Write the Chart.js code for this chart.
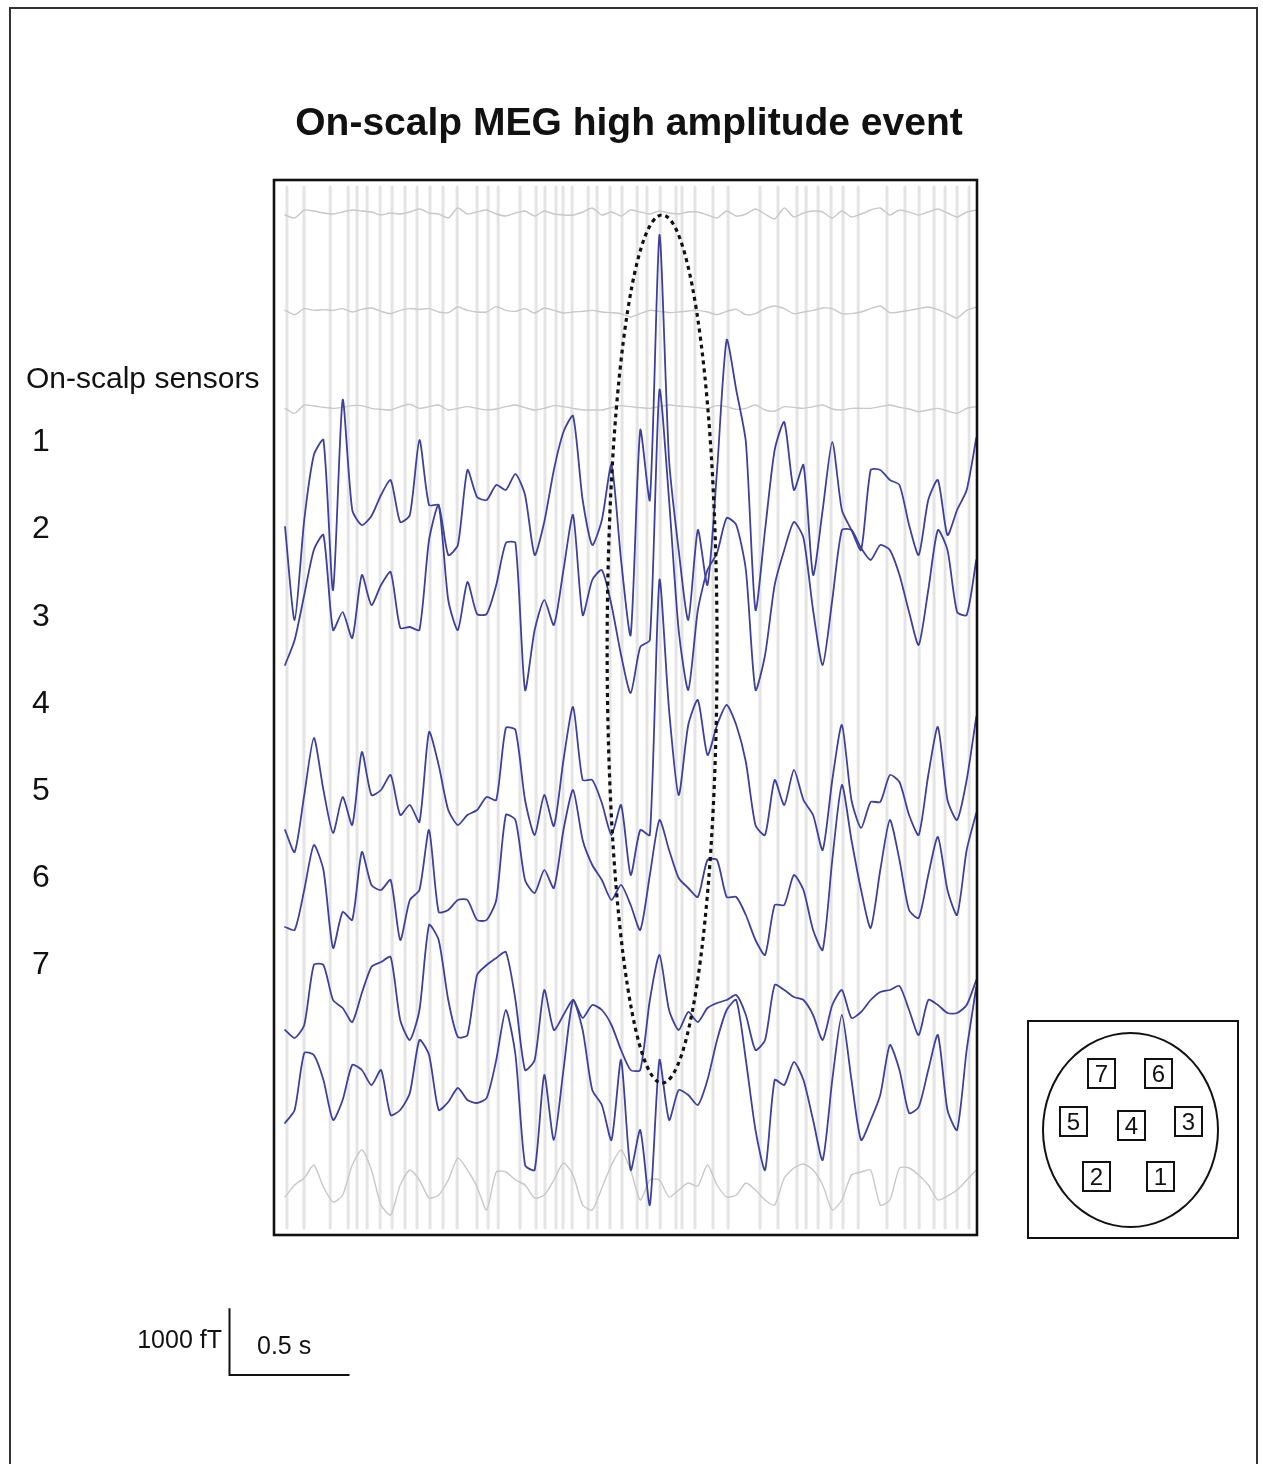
<!DOCTYPE html>
<html>
<head>
<meta charset="utf-8">
<title>On-scalp MEG high amplitude event</title>
<script src="https://cdn.jsdelivr.net/npm/chart.js@4.4.1/dist/chart.umd.min.js"></script>
<style>
  html, body { margin: 0; padding: 0; background: #fff; }
  body { width: 1263px; height: 1464px; position: relative; overflow: hidden;
         font-family: "Liberation Sans", Arial, sans-serif; color: #111; }
  #frame { position: absolute; left: 9px; top: 7px; width: 1249px; height: 1520px;
           border: 2px solid #333; box-sizing: border-box; }
  #chart { position: absolute; left: 0; top: 0; }
  .t { position: absolute; white-space: nowrap; line-height: 1; }
  #title { left: 0; width: 1258px; top: 102px; text-align: center; font-size: 39px; font-weight: bold; }
  #sensorsHead { left: 26px; top: 363px; font-size: 30px; }
  .num { left: 32px; font-size: 32px; }
  #barV { right: 1041px; top: 1327px; font-size: 25px; }
  #barH { left: 257px; top: 1333px; font-size: 25px; }
  #inset { position: absolute; left: 1027px; top: 1020px; width: 212px; height: 219px;
           border: 2px solid #111; box-sizing: border-box; }
  #head { position: absolute; left: 13px; top: 10px; width: 177px; height: 196px;
          border: 2px solid #111; border-radius: 50%; box-sizing: border-box; }
  .sq { position: absolute; width: 29px; height: 31px; border: 2px solid #111; box-sizing: border-box;
        display: flex; align-items: center; justify-content: center; font-size: 24px; line-height: 1; background: #fff; }
</style>
</head>
<body>
<div id="frame"></div>
<canvas id="chart" width="1263" height="1464"></canvas>
<div class="t" id="title">On-scalp MEG high amplitude event</div>
<div class="t" id="sensorsHead">On-scalp sensors</div>
<div class="t" id="barV">1000 fT</div>
<div class="t" id="barH">0.5 s</div>
<div id="inset"><div id="head"></div></div>

<script>
// ---- sampling grid (s) ----
const times = [0.00,0.04,0.08,0.12,0.16,0.20,0.24,0.28,0.32,0.36,0.40,0.44,0.48,0.52,0.56,0.60,0.64,0.68,0.72,0.76,
  0.80,0.84,0.88,0.92,0.96,1.00,1.04,1.08,1.12,1.16,1.20,1.24,1.28,1.32,1.36,1.40,1.44,1.48,1.52,1.56,
  1.60,1.64,1.68,1.72,1.76,1.80,1.84,1.88,1.92,1.96,2.00,2.04,2.08,2.12,2.16,2.20,2.24,2.28,2.32,2.36,
  2.40,2.44,2.48,2.52,2.56,2.60,2.64,2.68,2.72,2.76,2.80,2.84,2.88];

// ---- reference (off-scalp) channels, fT ----
const refA = [-30,-75,45,30,0,-15,15,45,30,15,-30,0,-15,15,60,0,-15,-75,75,-15,15,45,-15,-45,0,30,-45,30,-15,-30,
  -30,15,75,-30,15,-45,45,15,-15,30,0,-15,15,15,-30,-75,30,-45,-15,60,-15,-90,75,-60,0,30,15,-75,30,-60,
  -15,45,75,-30,45,15,-30,15,60,0,-60,15,45];
const refB = [0,-65,25,0,10,0,25,-25,15,35,-15,-50,0,25,15,25,-25,-35,50,0,-25,-25,55,0,-15,25,-40,35,0,-40,
  -25,-15,0,-25,-35,-50,-100,-50,0,-15,-35,-25,-10,0,-25,-65,-15,15,-65,-50,25,65,25,-50,-25,0,35,25,-50,-50,
  -25,25,65,-35,-25,0,25,50,10,-50,-115,0,50];
const refC = [-10,-85,40,25,5,-10,5,30,30,-10,-25,-35,15,50,-10,15,40,-35,-10,15,-10,-35,-20,15,40,0,-35,-10,30,15,
  -10,-35,-35,-35,0,30,15,0,-10,15,40,25,15,0,-10,30,15,-25,-10,40,-35,-50,15,5,-10,15,40,-20,-35,-10,
  -10,-10,15,40,5,-20,-60,-35,-10,-50,-85,-10,15];
const refD = [-150,30,135,330,0,-225,-120,330,555,255,-270,-420,30,255,105,-165,-120,105,435,255,0,-345,225,225,105,30,-165,-120,105,360,
  180,-270,-345,-15,330,555,255,-195,105,105,-150,-45,60,15,330,30,-150,-120,60,-45,-195,-270,135,285,345,255,30,-345,-195,180,
  225,255,-270,-195,285,285,180,30,-195,-135,-45,105,255];

// ---- on-scalp channels, fT ----
const scalp1 = [-330,-1725,-225,750,975,-1275,1575,-75,-300,-165,150,375,-255,-150,975,0,0,-750,-600,525,
  120,75,300,225,465,150,-750,-255,525,1095,1335,75,-600,-225,600,-825,-1950,1125,75,4050,
  675,-675,-1725,-375,-1200,525,2475,1725,945,-1575,-375,825,1245,225,600,-1050,-75,945,-75,-375,
  -675,525,525,375,300,-300,-750,75,375,-450,-75,225,1005];
const scalp2 = [-930,-555,120,795,1020,-405,-135,-525,420,-30,270,465,-375,-360,-405,945,1470,45,-405,315,
  -165,-165,270,900,900,-1305,-405,45,-330,495,1320,-180,345,495,-30,-780,-1350,-660,-555,3195,
  1545,-405,-1305,-105,495,750,1275,1170,495,-1305,-780,270,795,1215,975,-105,-930,45,1095,1095,
  825,645,870,795,420,-135,-630,195,1095,795,-135,-180,645];
const scalp3 = [-495,-825,30,885,105,-540,0,-420,675,30,105,330,-270,-120,-375,975,480,-195,-420,-270,
  -195,0,-45,1035,1005,-45,-570,30,-435,555,1350,255,255,-90,-570,-120,-1170,-495,-570,3255,
  1305,30,1080,1455,630,1080,1380,1080,525,-420,-570,255,-120,405,-45,-270,-795,255,1080,-45,
  -465,-75,-75,330,225,-270,-570,330,1050,-45,-345,255,1200];
const scalp4 = [-480,-525,75,750,375,-795,-255,-375,645,150,75,225,-675,-75,75,975,-255,-225,-75,-75,
  -375,-375,-75,1200,1125,225,30,375,105,975,1575,825,450,225,-75,150,-150,-525,300,1125,
  675,255,105,-30,525,525,-30,-30,-300,-675,-900,-150,-150,300,75,-525,-825,525,1650,825,
  75,-495,375,1125,525,-225,-345,300,870,75,-300,675,1230];
const scalp5 = [-570,-690,-495,405,405,-120,-240,-450,-15,375,450,525,-420,-720,-270,1005,780,-120,-675,-645,
  255,405,510,600,-120,-1170,-1020,30,-570,-345,-120,-390,-195,-270,-495,-870,-1170,-1170,-120,555,
  -270,-570,-300,-450,-240,-165,-120,-45,-345,-870,-720,105,30,-75,-120,-345,-720,-195,30,-390,
  -300,-120,0,30,90,-270,-645,-120,-195,-315,-315,-195,180];
const scalp6 = [-495,-300,555,525,150,-450,-150,375,300,75,300,-375,-300,-45,750,525,-300,-180,30,-150,
  -195,-120,450,1200,525,-1125,-1200,225,-750,300,1350,900,0,-225,-750,450,-1200,-600,-1725,450,
  -450,0,-75,-225,150,750,1200,1350,450,-600,-1200,150,75,420,150,-450,-1050,150,1125,150,
  -750,-450,-75,675,300,-345,-255,300,825,-300,-600,600,1545];

// channel order from top to bottom, with the vertical offset (fT) each is displayed at
const channels = [refA, refB, refC, scalp1, scalp2, scalp3, scalp4, scalp5, scalp6, refD];
const channelOffsets = [15330, 13870, 12410, 10950, 9480, 6570, 5100, 3645, 2175, 720];
const channelIsScalp = [false, false, false, true, true, true, true, true, true, false];

// event marker times (s)
const markerTimes = [0.008,0.079,0.188,0.263,0.300,0.342,0.396,0.446,0.500,0.550,0.604,0.658,0.717,0.800,0.846,0.888,
  0.979,1.046,1.083,1.129,1.158,1.196,1.263,1.300,1.354,1.404,1.467,1.508,1.563,1.629,1.654,1.708,1.783,1.846,
  1.979,2.054,2.133,2.171,2.221,2.275,2.325,2.388,2.508,2.583,2.642,2.704,2.750,2.800,2.850];

// highlighted event region: centre (s, fT) and half-widths (s, fT)
const eventCentre = [1.571, 8790];
const eventHalf = [0.229, 6510];

// scale bar lengths
const barTime = 0.5;     // s
const barField = 1000;   // fT

const sensorLabels = ['1','2','3','4','5','6','7'];

// ---- labels ----
const labelCentres = [440, 527, 615, 702, 789, 876, 963];
sensorLabels.forEach((s, i) => {
  const d = document.createElement('div');
  d.className = 't num';
  d.style.top = (labelCentres[i] - 16) + 'px';
  d.textContent = s;
  document.body.appendChild(d);
});

// sensor layout inset (positions inside the inset box)
const layoutPos = { '7': [58, 36], '6': [115, 36], '5': [30, 84], '4': [88, 88], '3': [145, 84], '2': [53, 139], '1': [117, 139] };
const inset = document.getElementById('inset');
sensorLabels.forEach(s => {
  const d = document.createElement('div');
  d.className = 'sq';
  d.style.left = layoutPos[s][0] + 'px';
  d.style.top = layoutPos[s][1] + 'px';
  d.textContent = s;
  inset.appendChild(d);
});

// ---- datasets ----
const BLUE = 'rgb(62,64,158)';
const GREY = 'rgb(200,200,200)';
const MARK = 'rgb(228,228,228)';

const datasets = [];
const markerData = [];
markerTimes.forEach(t => { markerData.push({x: t, y: 105}, {x: t, y: 15720}, {x: t, y: null}); });
datasets.push({ data: markerData, borderColor: MARK, borderWidth: 3, spanGaps: false, tension: 0, order: 10 });

channels.forEach((vals, c) => {
  datasets.push({
    data: times.map((t, i) => ({x: t, y: channelOffsets[c] + vals[i]})),
    borderColor: channelIsScalp[c] ? BLUE : GREY,
    borderWidth: channelIsScalp[c] ? 1.8 : 1.4,
    tension: 0.22,
    order: channelIsScalp[c] ? 1 : 5
  });
});

const overlay = {
  id: 'overlay',
  afterDatasetsDraw(chart) {
    const {ctx, chartArea: a, scales: {x, y}} = chart;
    // dotted ellipse around the event
    const cx = x.getPixelForValue(eventCentre[0]);
    const cy = y.getPixelForValue(eventCentre[1]);
    const rx = x.getPixelForValue(eventCentre[0] + eventHalf[0]) - cx;
    const ry = cy - y.getPixelForValue(eventCentre[1] + eventHalf[1]);
    ctx.save();
    ctx.strokeStyle = '#111';
    ctx.lineWidth = 3.2;
    ctx.setLineDash([4, 4]);
    ctx.beginPath();
    ctx.ellipse(cx, cy, rx, ry, 0, 0, Math.PI * 2);
    ctx.stroke();
    ctx.restore();
    // plot frame
    ctx.save();
    ctx.strokeStyle = '#111';
    ctx.lineWidth = 2.6;
    ctx.strokeRect(a.left, a.top, a.right - a.left, a.bottom - a.top);
    ctx.restore();
  },
  afterDraw(chart) {
    const {ctx, scales: {x, y}} = chart;
    const w = x.getPixelForValue(barTime) - x.getPixelForValue(0);
    const h = y.getPixelForValue(0) - y.getPixelForValue(barField);
    const ox = 229.5, oy = 1375;
    ctx.save();
    ctx.strokeStyle = '#111';
    ctx.lineWidth = 2;
    ctx.beginPath();
    ctx.moveTo(ox, oy - h);
    ctx.lineTo(ox, oy);
    ctx.lineTo(ox + w, oy);
    ctx.stroke();
    ctx.restore();
  }
};

new Chart(document.getElementById('chart'), {
  type: 'line',
  data: { datasets },
  options: {
    responsive: false,
    animation: false,
    devicePixelRatio: 1,
    layout: { padding: { left: 274, top: 180, right: 286, bottom: 229 } },
    elements: { point: { radius: 0 }, line: { borderJoinStyle: 'round', borderCapStyle: 'round' } },
    scales: {
      x: { type: 'linear', min: -0.046, max: 2.883, display: false },
      y: { type: 'linear', min: 0, max: 15825, display: false }
    },
    plugins: { legend: { display: false }, tooltip: { enabled: false }, title: { display: false } }
  },
  plugins: [overlay]
});
</script>
</body>
</html>
